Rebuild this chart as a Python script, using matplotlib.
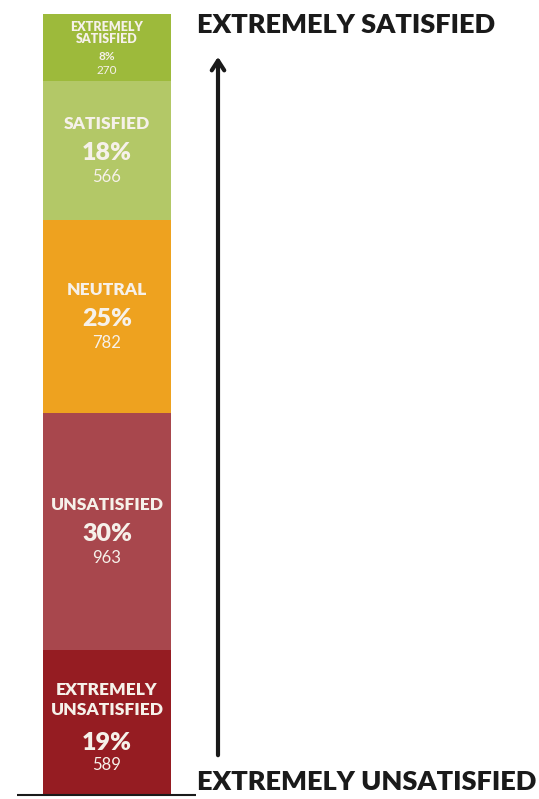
import matplotlib
matplotlib.use('Agg')
import matplotlib.pyplot as plt

# survey answers, bottom to top
labels = ['EXTREMELY\nUNSATISFIED', 'UNSATISFIED', 'NEUTRAL', 'SATISFIED', 'EXTREMELY\nSATISFIED']
counts = [589, 963, 782, 566, 270]
percents = [19, 30, 25, 18, 8]
colors = ['#951c22', '#a8474d', '#eea21f', '#b3c867', '#9dba3b']

plt.rcParams['font.family'] = ['Lato', 'DejaVu Sans']

W, H = 539, 799
fig = plt.figure(figsize=(W / 100, H / 100), dpi=100)
ax = fig.add_axes([0, 0, 1, 1])

total = sum(counts)
bar_top_px, bar_bot_px = 14, 795
per_px = total / (bar_bot_px - bar_top_px)
ax.set_xlim(0, W)
ax.set_ylim(-(H - bar_bot_px) * per_px, total + bar_top_px * per_px)
ax.axis('off')

txt = '#f6f1ea'
bottom = 0
for lab, c, p, col in zip(labels, counts, percents, colors):
    ax.bar(107, c, width=128, bottom=bottom, color=col, edgecolor='none')
    mid = bottom + c / 2
    if c < 400:
        # thin segment: everything small and packed
        ax.annotate(lab, (107, mid), xytext=(0, 10), textcoords='offset points',
                    ha='center', va='center', color=txt, fontsize=9,
                    fontweight='heavy', linespacing=1.0)
        ax.annotate(f'{p}%', (107, mid), xytext=(0, -7), textcoords='offset points',
                    ha='center', va='center', color=txt, fontsize=8.5,
                    fontweight='bold')
        ax.annotate(f'{c}', (107, mid), xytext=(0, -17), textcoords='offset points',
                    ha='center', va='center', color=txt, fontsize=8.5)
    else:
        two = '\n' in lab
        ax.annotate(lab, (107, mid), xytext=(0, 16 if two else 19),
                    textcoords='offset points', ha='center', va='center',
                    color=txt, fontsize=12.5, fontweight='heavy', linespacing=1.3)
        ax.annotate(f'{p}%', (107, mid), xytext=(0, -15 if two else -2),
                    textcoords='offset points', ha='center', va='center',
                    color=txt, fontsize=18, fontweight='heavy')
        ax.annotate(f'{c}', (107, mid), xytext=(0, -31 if two else -19),
                    textcoords='offset points', ha='center', va='center',
                    color=txt, fontsize=12)
    bottom += c

# baseline under the bar
ax.plot([17, 196], [0, 0], color='#1a1a1a', lw=1.5, solid_capstyle='butt')

# scale arrow
ax.annotate('', xy=(218 / W, 1 - 54 / H), xytext=(218 / W, 1 - 758 / H),
            xycoords='axes fraction', textcoords='axes fraction',
            arrowprops=dict(arrowstyle='->,head_length=0.7,head_width=0.45',
                            color='#1a1a1a', lw=3))
ax.text(197 / W, 1 - 25 / H, 'EXTREMELY SATISFIED', transform=ax.transAxes,
        ha='left', va='center', fontsize=19.5, fontweight='heavy', color='#1a1a1a')
ax.text(197 / W, 1 - 782 / H, 'EXTREMELY UNSATISFIED', transform=ax.transAxes,
        ha='left', va='center', fontsize=19.5, fontweight='heavy', color='#1a1a1a')

fig.savefig('out.png', dpi=100, facecolor='white')
